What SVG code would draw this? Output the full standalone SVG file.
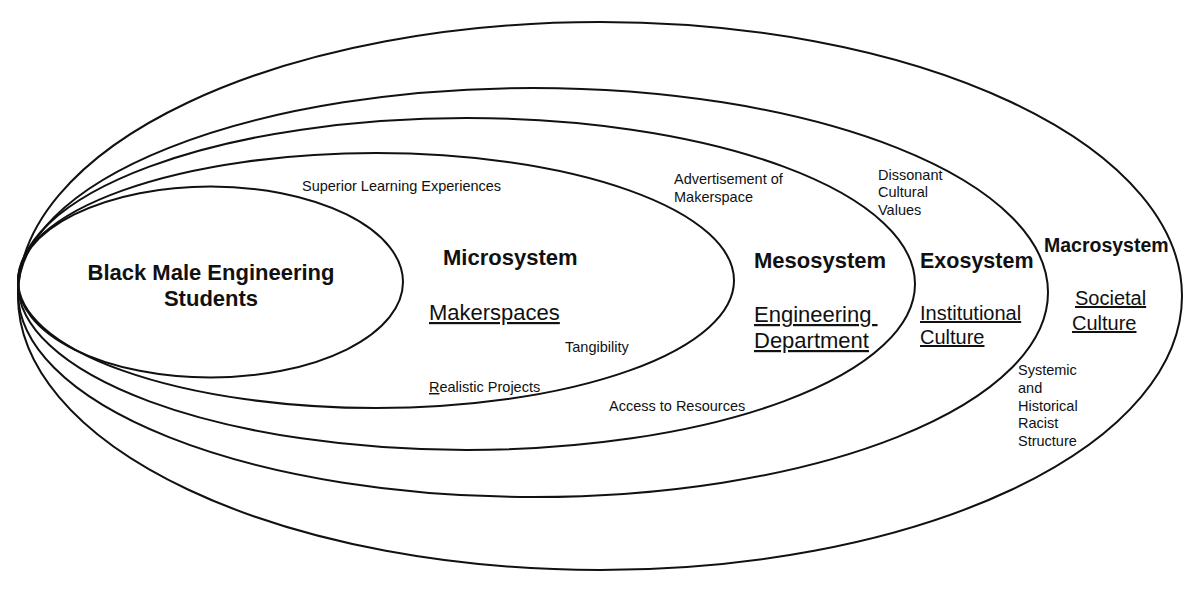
<svg xmlns="http://www.w3.org/2000/svg" width="1200" height="593" viewBox="0 0 1200 593">
<style>
.ring{fill:none;stroke:#111;stroke-width:2}
.title{font-family:"Liberation Sans",Arial,sans-serif;font-weight:bold;fill:#111}
.main{font-family:"Liberation Sans",Arial,sans-serif;font-size:22px;fill:#111;text-decoration:underline}
.sub{font-family:"Liberation Sans",Arial,sans-serif;font-size:20px;fill:#111;text-decoration:underline}
.small{font-family:"Liberation Sans",Arial,sans-serif;font-size:14.5px;fill:#111}
</style>
<rect width="1200" height="593" fill="#fff"/>
<g id="macrosystem">
<ellipse class="ring" cx="600" cy="296" rx="582" ry="274"/>
<text class="title" x="1044" y="252" font-size="19.5">Macrosystem</text>
<text class="sub" x="1075" y="305">Societal</text>
<text class="sub" x="1072" y="330">Culture</text>
<text class="small" x="1018" y="375">Systemic</text>
<text class="small" x="1018" y="393">and</text>
<text class="small" x="1018" y="411">Historical</text>
<text class="small" x="1018" y="428">Racist</text>
<text class="small" x="1018" y="446">Structure</text>
</g>
<g id="exosystem">
<ellipse class="ring" cx="533" cy="292.5" rx="515" ry="204.5"/>
<text class="title" x="920" y="268" font-size="21.5">Exosystem</text>
<text class="sub" x="920" y="320">Institutional</text>
<text class="sub" x="920" y="344">Culture</text>
<text class="small" x="878" y="180">Dissonant</text>
<text class="small" x="878" y="197">Cultural</text>
<text class="small" x="878" y="215">Values</text>
</g>
<g id="mesosystem">
<ellipse class="ring" cx="466.5" cy="284" rx="448.5" ry="166"/>
<text class="title" x="754" y="268" font-size="22">Mesosystem</text>
<text class="main" x="754" y="322">Engineering&#160;</text>
<text class="main" x="754" y="348">Department</text>
<text class="small" x="674" y="184">Advertisement of</text>
<text class="small" x="674" y="202">Makerspace</text>
<text class="small" x="609" y="411">Access to Resources</text>
</g>
<g id="microsystem">
<ellipse class="ring" cx="376" cy="280.5" rx="358" ry="127.5"/>
<text class="title" x="443" y="265" font-size="22">Microsystem</text>
<text class="main" x="429" y="320">Makerspaces</text>
<text class="small" x="302" y="191">Superior Learning Experiences</text>
<text class="small" x="565" y="352">Tangibility</text>
<text class="small" x="429" y="392"><tspan text-decoration="underline">R</tspan>ealistic Projects</text>
</g>
<g id="students">
<ellipse class="ring" cx="210.5" cy="282" rx="192.5" ry="95.5"/>
<text class="title" x="211" y="280" font-size="22" text-anchor="middle">Black Male Engineering</text>
<text class="title" x="211" y="306" font-size="22" text-anchor="middle">Students</text>
</g>
</svg>
